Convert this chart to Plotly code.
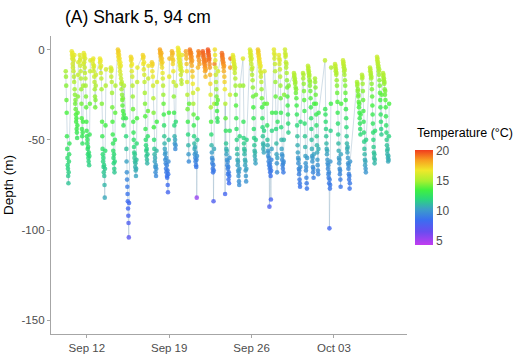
import pandas as pd
import plotly.graph_objects as go

# Start of each recorded block, as fractional day of September (31 = Oct 1)
block_start_day = [
    10.21, 10.72, 11.40, 11.74, 12.51, 13.11, 14.04, 14.64, 15.32, 15.74,
    16.76, 17.53, 18.21, 19.23, 19.74, 20.42, 20.76, 21.86, 22.29, 22.88,
    23.48, 24.41, 25.27, 25.86, 26.54, 27.31, 27.90, 28.33, 28.84, 29.60,
    30.37, 30.79, 31.39, 32.24, 33.09, 33.77, 34.96, 35.38, 36.06, 36.66,
    37.17,
]

# Depth records (m) for each block, 30-min sampling
block_depth = [
    [-12, -15, -20, -28, -35, -48, -55, -60, -64, -66, -70, -74, -68, -62, -58, -52],
    [-1, -3, -5, -2, -8, -10, -4, -12, -6, -15, -18, -3, -22, -25, -30, -28, -33, -36, -40, -38, -44, -46, -49, -42, -35, -26, -14, -7],
    [-3, -6, -9, -5, -12, -16, -22, -30, -38, -44, -48, -52, -46, -40, -20, -8],
    [-2, -4, -7, -3, -10, -13, -5, -16, -20, -26, -32, -40, -45, -48, -52, -50, -55, -58, -54, -60, -62, -57, -64, -59, -47, -30, -12, -6],
    [-6, -8, -5, -10, -12, -9, -15, -18, -22, -26, -32, -28, -20, -14],
    [-5, -7, -10, -6, -13, -9, -16, -22, -30, -40, -48, -55, -58, -62, -60, -65, -68, -64, -70, -75, -82, -66, -56, -42, -20, -11],
    [-10, -12, -15, -11, -18, -24, -32, -40, -47, -52, -56, -60, -63, -58, -66, -68, -62, -50, -35, -20],
    [0, -2, -4, -1, -6, -3, -8, -5, -10, -12, -7, -14, -9, -16, -19, -22, -18, -25, -28, -31, -27, -34, -38, -42, -36, -20],
    [-38, -48, -55, -62, -68, -72, -76, -80, -84, -88, -92, -96, -104, -85],
    [-4, -6, -9, -5, -12, -8, -15, -20, -26, -33, -40, -46, -50, -54, -57, -60, -58, -62, -65, -63, -67, -70, -66, -61, -52, -38, -18, -10],
    [-3, -5, -8, -4, -11, -7, -14, -18, -24, -30, -37, -44, -50, -53, -56, -59, -55, -61, -63, -58, -48, -34, -16, -9],
    [-7, -9, -12, -8, -15, -20, -27, -35, -43, -50, -55, -58, -62, -60, -65, -68, -64, -70, -66, -56, -40, -18],
    [0, -2, -1, -4, -3, -6, -2, -8, -5, -10, -7, -13, -16, -20, -25, -30, -36, -42, -48, -52, -55, -58, -61, -57, -63, -66, -60, -68, -64, -70, -71, -67, -75, -79, -69, -62, -50, -35, -15, -5],
    [-1, -3, -5, -2, -8, -6, -12, -18, -26, -35, -42, -48, -52, -50, -55, -53, -40, -20],
    [1, -1, -3, 0, -5, -2, -7, -4, -9, -6, -11, -8, -14, -10, -17, -19, -12, -3],
    [-1, -3, -5, -8, -12, -18, -25, -33, -40, -47, -53, -58, -62, -30],
    [0, -2, -1, -3, -5, -2, -7, -4, -9, -6, -12, -15, -19, -24, -30, -36, -42, -48, -52, -55, -58, -54, -60, -62, -57, -64, -65, -61, -82, -59, -50, -38, -22, -10, -4, -1, -3, -6, -2, -8],
    [-1, -2, -4, -3, -6, -5, -8, -7, -10, -12, -9, -15, -11, -6],
    [0, -2, -1, -4, -3, -6, -5, -8, -10, -14, -19, -25, -32, -40, -47, -53, -57, -60, -63, -61, -66, -68, -64, -84, -67, -55, -30, -8],
    [0, -3, -6, -10, -14, -18, -22, -26, -30, -34, -38, -40, -28, -12],
    [-2, -4, -3, -6, -5, -8, -7, -10, -12, -9, -15, -18, -22, -80, -30, -38, -45, -52, -55, -58, -56, -61, -64, -62, -66, -69, -65, -72, -68, -74, -70, -60, -45, -25, -10, -5],
    [-3, -5, -4, -7, -6, -9, -8, -11, -13, -10, -16, -20, -25, -31, -38, -44, -50, -55, -58, -61, -64, -62, -67, -70, -68, -73, -75, -66, -48, -20],
    [-5, -20, -40, -49, -52, -55, -58, -56, -61, -64, -62, -67, -70, -73, -66, -50],
    [0, -2, -4, -1, -6, -3, -8, -5, -11, -14, -10, -17, -21, -26, -32, -38, -44, -49, -53, -56, -59, -57, -61, -63, -50, -25],
    [0, -2, -1, -4, -3, -6, -5, -8, -7, -10, -12, -9, -15, -13, -18, -22, -27, -32, -38, -43, -48, -52, -55, -53, -57, -45, -30, -12],
    [-30, -42, -50, -53, -56, -59, -57, -62, -60, -64, -87, -66, -63, -68, -65, -70, -83, -67, -61, -55, -45, -35],
    [0, -2, -5, -3, -8, -12, -18, -26, -35, -44, -52, -58, -63, -68, -60, -40],
    [-3, -5, -8, -6, -11, -15, -20, -27, -35, -43, -50, -55, -58, -61, -59, -64, -66, -63, -68, -62, -50, -25],
    [0, -2, -4, -3, -7, -10, -8, -13, -17, -21, -26, -31, -36, -41, -46, -20],
    [-13, -15, -14, -17, -16, -19, -18, -21, -24, -22, -27, -31, -36, -42, -48, -53, -57, -60, -63, -61, -66, -69, -67, -72, -74, -76, -65, -40],
    [-13, -16, -14, -19, -23, -28, -34, -41, -48, -54, -59, -63, -67, -65, -71, -74, -77, -60],
    [-9, -11, -10, -13, -12, -15, -14, -17, -20, -18, -23, -27, -32, -38, -44, -50, -55, -59, -62, -60, -65, -68, -66, -71, -58, -30],
    [-16, -18, -21, -25, -30, -36, -42, -48, -53, -57, -61, -64, -67, -69, -55, -35],
    [-6, -33, -36, -40, -44, -48, -52, -55, -58, -56, -61, -63, -66, -64, -69, -71, -68, -74, -99, -72, -77, -75, -62, -45, -30, -10],
    [-8, -10, -9, -12, -11, -14, -13, -17, -20, -24, -29, -35, -41, -47, -52, -56, -60, -63, -61, -66, -69, -67, -72, -76, -58, -30],
    [-6, -8, -7, -10, -9, -12, -14, -11, -17, -20, -24, -28, -33, -38, -43, -48, -52, -55, -57, -54, -60, -63, -66, -64, -69, -72, -70, -77, -74, -62],
    [-18, -20, -19, -23, -22, -26, -25, -29, -32, -30, -35, -38, -41, -44, -47, -36],
    [-14, -16, -15, -19, -23, -28, -34, -40, -46, -51, -55, -58, -61, -64, -62, -66, -68, -50],
    [-10, -12, -11, -14, -13, -16, -15, -19, -22, -26, -31, -36, -41, -46, -50, -54, -57, -60, -58, -63, -61, -45],
    [-4, -6, -5, -8, -7, -10, -9, -12, -14, -11, -17, -20, -24, -28, -32, -36, -40, -44, -47, -25],
    [-13, -15, -14, -17, -16, -19, -18, -22, -25, -23, -28, -32, -37, -42, -46, -50, -53, -56, -58, -55, -60, -62, -59, -61, -48, -30],
]

# Water temperature (°C) at each depth record
block_temp = [
    [15.0, 14.8, 14.5, 14.0, 13.6, 13.0, 12.6, 12.3, 12.0, 11.9, 11.6, 11.4, 11.8, 12.2, 12.5, 12.8],
    [16.6, 16.5, 16.4, 16.6, 16.2, 16.0, 16.4, 15.8, 16.3, 15.5, 15.2, 16.5, 14.9, 14.6, 14.2, 14.4, 14.0, 13.7, 13.4, 13.5, 13.2, 13.0, 12.8, 13.3, 13.8, 14.5, 15.6, 16.2],
    [16.4, 16.2, 16.0, 16.3, 15.7, 15.3, 14.8, 14.2, 13.6, 13.2, 12.9, 12.6, 13.0, 13.5, 15.0, 16.0],
    [16.5, 16.4, 16.2, 16.5, 15.9, 15.6, 16.3, 15.3, 14.9, 14.4, 13.9, 13.4, 13.0, 12.8, 12.6, 12.7, 12.4, 12.2, 12.5, 12.1, 11.9, 12.3, 11.8, 12.1, 12.9, 14.0, 15.7, 16.2],
    [16.5, 16.3, 16.6, 16.2, 16.0, 16.2, 15.8, 15.5, 15.0, 14.7, 14.2, 14.5, 15.2, 15.9],
    [16.8, 16.6, 16.3, 16.7, 16.0, 16.4, 15.6, 15.0, 14.4, 13.6, 13.0, 12.4, 12.2, 11.9, 12.0, 11.7, 11.5, 11.8, 11.3, 11.0, 10.6, 11.6, 12.3, 13.4, 15.2, 16.1],
    [16.2, 16.0, 15.7, 16.1, 15.4, 14.9, 14.2, 13.6, 13.1, 12.7, 12.4, 12.1, 11.9, 12.2, 11.7, 11.5, 12.0, 12.8, 13.9, 15.2],
    [17.4, 17.3, 17.1, 17.4, 16.9, 17.2, 16.7, 17.0, 16.5, 16.3, 16.8, 16.0, 16.6, 15.8, 15.4, 15.0, 15.5, 14.6, 14.2, 13.9, 14.4, 13.6, 13.2, 12.8, 13.4, 15.2],
    [13.0, 12.0, 11.2, 10.4, 9.8, 9.4, 9.0, 8.7, 8.4, 8.1, 7.9, 7.6, 7.1, 8.2],
    [17.2, 17.0, 16.7, 17.1, 16.4, 16.8, 16.0, 15.4, 14.8, 14.1, 13.4, 12.8, 12.4, 12.0, 11.7, 11.4, 11.6, 11.2, 10.9, 11.1, 10.7, 10.5, 10.8, 11.3, 12.2, 13.6, 15.6, 16.5],
    [17.3, 17.1, 16.8, 17.2, 16.5, 16.9, 16.1, 15.6, 15.0, 14.4, 13.7, 13.0, 12.3, 12.0, 11.7, 11.4, 11.8, 11.2, 11.0, 11.5, 12.5, 14.0, 15.8, 16.7],
    [17.4, 17.2, 16.9, 17.3, 16.6, 16.0, 15.3, 14.4, 13.4, 12.3, 11.5, 11.0, 10.4, 10.7, 10.1, 9.7, 10.2, 9.5, 9.9, 11.1, 13.4, 16.2],
    [18.3, 18.1, 18.2, 17.9, 18.0, 17.6, 18.1, 17.3, 17.7, 17.0, 17.4, 16.6, 16.1, 15.5, 14.8, 14.0, 13.2, 12.4, 11.5, 10.9, 10.5, 10.1, 9.7, 10.2, 9.5, 9.1, 9.8, 8.9, 9.3, 8.7, 8.6, 9.0, 8.3, 8.0, 8.8, 9.6, 11.2, 13.4, 16.5, 17.8],
    [18.0, 17.8, 17.6, 17.9, 17.2, 17.5, 16.7, 15.9, 14.6, 13.2, 12.0, 10.9, 10.2, 10.5, 9.6, 9.9, 12.2, 15.6],
    [16.8, 16.7, 16.6, 16.8, 16.5, 16.7, 16.4, 16.6, 16.3, 16.5, 16.2, 16.3, 15.9, 16.2, 15.6, 15.4, 16.0, 16.6],
    [18.4, 18.2, 18.0, 17.6, 17.0, 16.2, 15.3, 14.2, 13.2, 12.0, 11.0, 10.2, 9.6, 14.0],
    [19.2, 19.0, 19.1, 18.9, 18.7, 19.0, 18.5, 18.8, 18.2, 18.6, 17.8, 17.3, 16.7, 16.0, 15.0, 14.0, 13.0, 11.9, 11.1, 10.6, 10.0, 10.7, 9.6, 9.3, 10.1, 9.1, 8.9, 9.4, 5.4, 9.8, 11.4, 13.3, 16.2, 18.0, 18.8, 19.1, 18.9, 18.6, 19.0, 18.4],
    [19.6, 19.5, 19.3, 19.4, 19.1, 19.2, 18.9, 19.0, 18.7, 18.4, 18.8, 18.0, 18.5, 19.1],
    [19.8, 19.6, 19.7, 19.4, 19.5, 19.2, 19.3, 18.9, 18.6, 18.0, 17.2, 16.2, 15.0, 13.6, 12.2, 11.0, 10.3, 9.8, 9.4, 9.6, 9.0, 8.8, 9.2, 7.6, 8.9, 10.6, 15.0, 19.0],
    [17.0, 16.8, 16.6, 16.2, 15.8, 15.3, 14.8, 14.3, 13.8, 13.3, 12.8, 12.5, 14.0, 16.0],
    [19.4, 19.2, 19.3, 19.0, 19.1, 18.8, 18.9, 18.5, 18.2, 18.6, 17.8, 17.3, 16.7, 8.0, 15.3, 14.0, 12.7, 11.4, 10.9, 10.4, 10.7, 9.9, 9.5, 9.7, 9.2, 8.9, 9.3, 8.6, 9.0, 8.4, 8.8, 10.0, 12.6, 16.0, 18.4, 19.1],
    [16.6, 16.5, 16.5, 16.3, 16.4, 16.1, 16.2, 15.9, 15.7, 16.0, 15.3, 14.9, 14.3, 13.7, 13.0, 12.4, 11.8, 11.3, 11.0, 10.7, 10.4, 10.6, 10.2, 10.0, 10.1, 9.8, 9.7, 10.3, 12.0, 15.0],
    [16.4, 14.8, 12.8, 11.9, 11.6, 11.3, 11.0, 11.2, 10.8, 10.5, 10.7, 10.3, 10.1, 9.9, 10.4, 11.8],
    [16.2, 16.1, 16.0, 16.2, 15.9, 16.1, 15.8, 16.0, 15.6, 15.3, 15.7, 15.0, 14.6, 14.1, 13.5, 12.9, 12.3, 11.8, 11.4, 11.1, 10.8, 11.0, 10.6, 10.4, 11.7, 14.2],
    [17.6, 17.4, 17.5, 17.2, 17.3, 17.0, 17.1, 16.8, 16.9, 16.5, 16.2, 16.6, 15.8, 16.0, 15.4, 14.8, 14.1, 13.4, 12.6, 12.0, 11.4, 11.0, 10.7, 10.9, 10.5, 11.8, 13.8, 16.2],
    [14.0, 12.6, 11.3, 10.8, 10.2, 9.8, 10.0, 9.4, 9.6, 9.2, 7.6, 9.0, 9.3, 8.8, 9.1, 8.6, 7.9, 8.9, 9.5, 10.4, 11.9, 13.3],
    [16.5, 16.4, 16.1, 16.3, 15.8, 15.4, 14.8, 14.0, 13.0, 12.0, 11.1, 10.5, 10.0, 9.6, 10.4, 12.6],
    [16.6, 16.4, 16.1, 16.3, 15.8, 15.3, 14.8, 14.0, 13.0, 12.0, 11.0, 10.4, 10.0, 9.7, 9.9, 9.4, 9.2, 9.5, 9.0, 9.6, 11.0, 14.5],
    [16.0, 15.9, 15.8, 15.9, 15.6, 15.3, 15.5, 15.0, 14.6, 14.2, 13.7, 13.2, 12.7, 12.2, 11.7, 14.4],
    [15.4, 15.2, 15.3, 15.0, 15.1, 14.8, 14.9, 14.6, 14.2, 14.5, 13.8, 13.3, 12.7, 12.0, 11.3, 10.8, 10.4, 10.1, 9.8, 10.0, 9.5, 9.2, 9.4, 9.0, 8.9, 8.7, 9.7, 12.2],
    [15.3, 15.0, 15.2, 14.7, 14.3, 13.8, 13.1, 12.3, 11.5, 10.9, 10.4, 10.0, 9.6, 9.8, 9.3, 9.0, 8.8, 10.2],
    [15.6, 15.4, 15.5, 15.2, 15.3, 15.0, 15.1, 14.8, 14.5, 14.7, 14.1, 13.7, 13.1, 12.4, 11.8, 11.2, 10.7, 10.3, 10.0, 10.2, 9.7, 9.4, 9.6, 9.1, 10.4, 13.4],
    [15.0, 14.8, 14.5, 14.1, 13.6, 13.0, 12.3, 11.6, 11.0, 10.6, 10.2, 9.9, 9.6, 9.4, 10.8, 13.0],
    [15.6, 12.9, 12.6, 12.2, 11.8, 11.4, 11.0, 10.7, 10.4, 10.6, 10.1, 9.9, 9.6, 9.8, 9.4, 9.2, 9.5, 9.0, 8.1, 9.1, 8.8, 8.9, 10.0, 11.7, 13.3, 15.2],
    [15.7, 15.5, 15.6, 15.3, 15.4, 15.1, 15.2, 14.8, 14.5, 14.1, 13.6, 13.0, 12.3, 11.7, 11.1, 10.7, 10.3, 10.0, 10.2, 9.7, 9.4, 9.6, 9.1, 8.8, 10.5, 13.6],
    [15.8, 15.6, 15.7, 15.4, 15.5, 15.2, 15.0, 15.3, 14.7, 14.4, 14.0, 13.6, 13.0, 12.5, 12.0, 11.4, 11.0, 10.7, 10.5, 10.8, 10.2, 9.9, 9.6, 9.8, 9.3, 9.0, 9.2, 8.7, 8.9, 10.0],
    [15.0, 14.8, 14.9, 14.5, 14.6, 14.2, 14.3, 13.9, 13.6, 13.8, 13.3, 13.0, 12.7, 12.4, 12.1, 13.2],
    [15.4, 15.2, 15.3, 14.9, 14.5, 14.0, 13.4, 12.8, 12.2, 11.7, 11.3, 11.0, 10.7, 10.4, 10.6, 10.2, 10.0, 11.8],
    [15.5, 15.3, 15.4, 15.1, 15.2, 14.9, 15.0, 14.6, 14.3, 13.9, 13.5, 13.0, 12.6, 12.2, 11.9, 11.6, 11.4, 11.2, 11.3, 11.0, 11.1, 12.3],
    [15.8, 15.6, 15.7, 15.4, 15.5, 15.2, 15.3, 15.0, 14.8, 15.1, 14.5, 14.2, 13.8, 13.4, 13.0, 12.6, 12.2, 11.8, 11.6, 13.9],
    [15.3, 15.1, 15.2, 14.9, 15.0, 14.7, 14.8, 14.4, 14.1, 14.3, 13.8, 13.4, 12.9, 12.4, 12.0, 11.6, 11.3, 11.1, 10.9, 11.2, 10.8, 10.6, 10.9, 10.7, 11.9, 13.6],
]

SAMPLE_MINUTES = 30
month_start = pd.Timestamp("2019-09-01")

times, depths, temps = [], [], []
for start, dlist, tlist in zip(block_start_day, block_depth, block_temp):
    t0 = month_start + pd.Timedelta(days=start - 1)
    n = min(len(dlist), len(tlist))
    for i in range(n):
        times.append(t0 + pd.Timedelta(minutes=SAMPLE_MINUTES * i))
        depths.append(dlist[i])
        temps.append(tlist[i])

temp_scale = [
    [0.000, "#c23cf0"],
    [0.138, "#6a4cf0"],
    [0.264, "#3a6ef0"],
    [0.377, "#3c9ec8"],
    [0.484, "#2ad87a"],
    [0.579, "#40f040"],
    [0.673, "#a8f030"],
    [0.786, "#f0e82a"],
    [0.893, "#f8a020"],
    [1.000, "#f03c1e"],
]

W, H = 521, 354
M_L, M_R, M_T, M_B = 51, 114, 36, 20

fig = go.Figure()
fig.add_trace(go.Scatter(
    x=times, y=depths, mode="lines",
    line=dict(color="rgba(150,180,200,0.55)", width=0.8),
    hoverinfo="skip", showlegend=False,
))
fig.add_trace(go.Scatter(
    x=times, y=depths, mode="markers",
    marker=dict(
        size=4.6, color=temps, colorscale=temp_scale, cmin=4.3, cmax=20.2,
        opacity=0.8, line=dict(width=0),
        colorbar=dict(
            xref="container", yref="container",
            x=415 / W, xanchor="left", y=1 - 178 / H, yanchor="top",
            lenmode="pixels", len=95, thickness=18,
            xpad=0, ypad=0, outlinewidth=0,
            tickvals=[5, 10, 15, 20], ticks="",
            tickfont=dict(family="Liberation Sans, Arial", size=12, color="#4d4d4d"),
        ),
    ),
    showlegend=False,
))

week_ticks = ["2019-09-12", "2019-09-19", "2019-09-26", "2019-10-03"]
depth_ticks = [-150, -100, -50, 0]

fig.update_layout(
    width=W, height=H,
    margin=dict(l=M_L, r=M_R, t=M_T, b=M_B, autoexpand=False),
    paper_bgcolor="white", plot_bgcolor="white",
    font=dict(family="Liberation Sans, Arial", color="#4d4d4d"),
    title=dict(
        text="(A) Shark 5, 94 cm", xref="container", yref="container",
        x=65 / W, xanchor="left", y=1 - 17 / H, yanchor="middle",
        font=dict(size=17.5, color="black"),
    ),
    xaxis=dict(
        range=["2019-09-08 23:00", "2019-10-09 05:00"],
        tickvals=week_ticks, tickformat="%b %d",
        showgrid=False, zeroline=False, automargin=False,
        showline=True, linecolor="#a6a6a6", linewidth=1.3,
        ticks="outside", ticklen=3, tickcolor="#a6a6a6",
        tickfont=dict(size=11.5, color="#4d4d4d"),
    ),
    yaxis=dict(
        range=[-157.5, 7.5],
        tickvals=depth_ticks, ticktext=[str(v) for v in depth_ticks],
        showgrid=False, zeroline=False, automargin=False,
        showline=True, linecolor="#a6a6a6", linewidth=1.3,
        ticks="outside", ticklen=3, tickcolor="#a6a6a6",
        tickfont=dict(size=11.5, color="#4d4d4d"),
        title=dict(text="Depth (m)", standoff=4, font=dict(size=13.5, color="black")),
    ),
    annotations=[dict(
        text="Temperature (°C)", xref="paper", yref="paper", showarrow=False,
        x=(415 - M_L) / (W - M_L - M_R), xanchor="left",
        y=(H - M_B - 133) / (H - M_T - M_B), yanchor="middle",
        font=dict(size=12.5, color="black"),
    )],
)

fig.write_html("out.html")
